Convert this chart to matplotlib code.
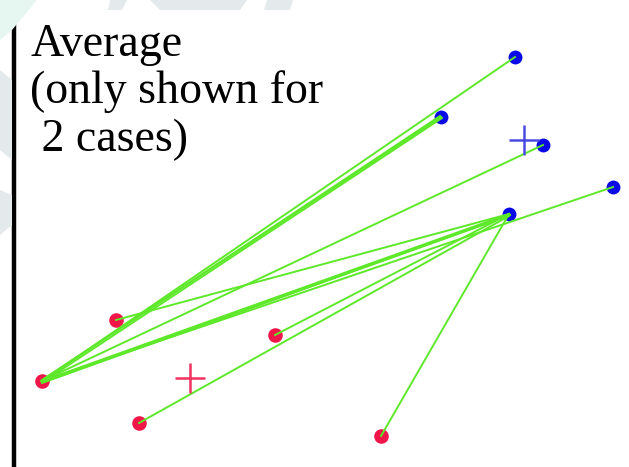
import matplotlib
matplotlib.use("Agg")
import matplotlib.pyplot as plt
from matplotlib.patches import Polygon

W, H = 629, 467

# endpoints (x to the right, y downwards)
red_x = [116, 42, 275, 139, 381]
red_y = [320, 381, 335, 423, 436]
blue_x = [515, 441, 543, 509, 613]
blue_y = [57, 117, 145, 214, 187]

# averages (the two crosses)
avg_red = (190, 378)
avg_blue = (524, 140)

# green connecting lines: start -> end
line_x0 = [42, 42, 43, 41, 42, 42, 43, 42, 116, 275, 139, 381, 42]
line_y0 = [381, 380, 382, 381, 381, 381, 382, 383, 320, 335, 423, 436, 381]
line_x1 = [515, 441, 442, 440, 543, 509, 508, 510, 509, 509, 509, 509, 613]
line_y1 = [57, 117, 118, 116, 145, 214, 216, 215, 214, 214, 216, 214, 187]

fig = plt.figure(figsize=(W / 100, H / 100), dpi=100)
fig.patch.set_facecolor("white")

# faint watermark bits that peek out around the plot box
def fpoly(pts, color):
    p = Polygon([(x / W, 1 - y / H) for x, y in pts], closed=True,
                transform=fig.transFigure, facecolor=color, edgecolor="none", zorder=0)
    fig.patches.append(p)

fpoly([(0, 0), (37, 0), (12, 30), (0, 40)], "#e6f6f0")
fpoly([(110, 0), (127, 0), (122, 10), (108, 10)], "#e4eaec")
fpoly([(150, 0), (247, 0), (240, 10), (160, 10)], "#e4eaec")
fpoly([(267, 0), (293, 0), (290, 10), (264, 10)], "#e4eaec")
fpoly([(0, 70), (12, 80), (12, 160), (0, 150)], "#e4eaec")
fpoly([(0, 190), (12, 195), (12, 225), (0, 235)], "#e4eaec")

ax = fig.add_axes([13.5 / W, 0, 1 - 13.5 / W, (H - 10) / H])
ax.set_xlim(13.5, W)
ax.set_ylim(H, 10)
for s in ["top", "right", "bottom"]:
    ax.spines[s].set_visible(False)
ax.spines["left"].set_linewidth(3.2)
ax.spines["left"].set_color("black")
ax.set_xticks([])
ax.set_yticks([])

for x0, y0, x1, y1 in zip(line_x0, line_y0, line_x1, line_y1):
    ax.plot([x0, x1], [y0, y1], color="#5ee82a", lw=1.4, zorder=2)

ax.plot(red_x, red_y, "o", color="#f0164a", ms=10.5, mec="none", zorder=1)
ax.plot(blue_x, blue_y, "o", color="#0a0ae6", ms=10, mec="none", zorder=1)

ax.plot(*avg_red, "+", color="#f0325f", ms=22, mew=1.8, zorder=3)
ax.plot(*avg_blue, "+", color="#4a4ae0", ms=22, mew=1.8, zorder=3)

fig.text(30 / W, 1 - 23 / H, "Average\n(only shown for\n 2 cases)",
         family="Liberation Serif", fontsize=33, va="top", ha="left",
         linespacing=1.15)

fig.savefig("out.png", dpi=100)
